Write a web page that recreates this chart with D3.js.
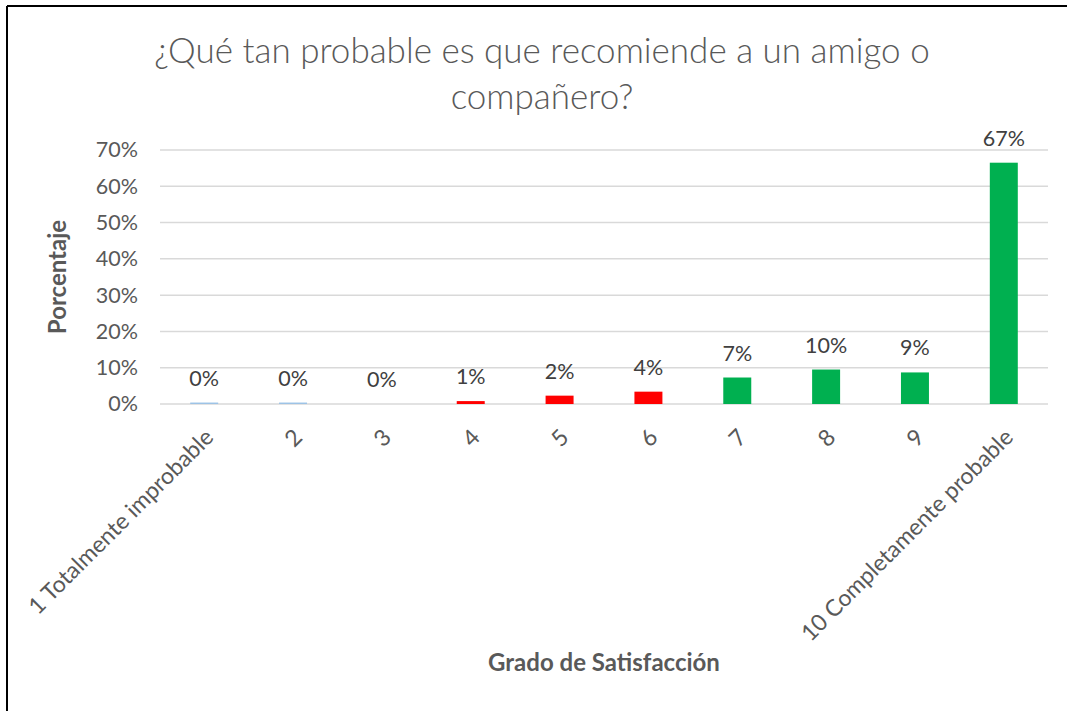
<!DOCTYPE html>
<html>
<head>
<meta charset="utf-8">
<script src="https://cdn.jsdelivr.net/npm/d3@7"></script>
<style>
  body { margin: 0; background: #fff; }
  svg { display: block; font-family: Lato, "Open Sans", sans-serif; }
</style>
</head>
<body>
<svg id="canvas" width="1067" height="711"></svg>
<script>
// data
const categories = ['1 Totalmente improbable', '2', '3', '4', '5', '6', '7', '8', '9', '10 Completamente probable'];
const values = [0.004, 0.004, 0, 0.008, 0.023, 0.034, 0.073, 0.095, 0.087, 0.665];
const labels = ['0%', '0%', '0%', '1%', '2%', '4%', '7%', '10%', '9%', '67%'];
const colors = ['#9dc3e6', '#9dc3e6', '#9dc3e6', '#ff0000', '#ff0000', '#ff0000', '#00b050', '#00b050', '#00b050', '#00b050'];
const yTicks = [0, 0.1, 0.2, 0.3, 0.4, 0.5, 0.6, 0.7];

const svg = d3.select('#canvas')

// frame (only top and left edges visible in the picture)
svg.append('line').attr('x1', 7).attr('x2', 1067).attr('y1', 6).attr('y2', 6)
   .attr('stroke', '#000').attr('stroke-width', 2)
svg.append('line').attr('x1', 7).attr('x2', 7).attr('y1', 6).attr('y2', 711)
   .attr('stroke', '#000').attr('stroke-width', 2)

const plotLeft = 160, plotRight = 1048, plotTop = 150, plotBottom = 404

let x = d3.scaleBand().domain(categories).range([plotLeft, plotRight]).paddingInner(0.685).paddingOuter(0.34)
let y = d3.scaleLinear().domain([0, 0.7]).range([plotBottom, plotTop])

// gridlines
svg.append('g')
   .selectAll('line')
   .data(yTicks)
   .enter()
   .append('line')
   .attr('x1', plotLeft).attr('x2', plotRight)
   .attr('y1', d => y(d)).attr('y2', d => y(d))
   .attr('stroke', '#d9d9d9').attr('stroke-width', 1.5)

// y axis labels
let yAxis = d3.axisLeft(y).tickValues(yTicks).tickFormat(d3.format('.0%')).tickSize(0).tickPadding(22)
let gy = svg.append('g').attr('transform', `translate(${plotLeft},0)`).call(yAxis)
gy.select('.domain').remove()
gy.selectAll('text').attr('font-size', 21.5).attr('fill', '#595959').attr('font-family', 'Lato, sans-serif')

// bars
svg.append('g')
   .selectAll('rect')
   .data(values)
   .enter()
   .append('rect')
   .attr('x', (d, i) => x(categories[i]))
   .attr('width', x.bandwidth())
   .attr('y', d => y(d))
   .attr('height', d => plotBottom - y(d))
   .attr('fill', (d, i) => colors[i])

// data labels
svg.append('g')
   .selectAll('text')
   .data(values)
   .enter()
   .append('text')
   .attr('x', (d, i) => x(categories[i]) + x.bandwidth() / 2)
   .attr('y', d => y(d) - 17)
   .attr('text-anchor', 'middle')
   .attr('font-size', 21.5)
   .attr('fill', '#404040')
   .text((d, i) => labels[i])

// x axis labels, rotated
let xAxis = d3.axisBottom(x).tickSize(0).tickPadding(0)
let gx = svg.append('g').attr('transform', `translate(0,${plotBottom})`).call(xAxis)
gx.select('.domain').remove()
gx.selectAll('text')
  .attr('font-size', 23).attr('fill', '#595959').attr('font-family', 'Lato, sans-serif')
  .attr('text-anchor', 'end')
  .attr('dy', '0.35em')
  .attr('transform', 'translate(5,29) rotate(-45)')

// title
svg.append('text').attr('x', 542).attr('y', 63).attr('text-anchor', 'middle')
   .attr('font-size', 35).attr('font-weight', 300).attr('fill', '#595959').text('¿Qué tan probable es que recomiende a un amigo o')
svg.append('text').attr('x', 542).attr('y', 109).attr('text-anchor', 'middle')
   .attr('font-size', 35).attr('font-weight', 300).attr('fill', '#595959').text('compañero?')

// axis titles
svg.append('text').attr('transform', 'translate(66,277) rotate(-90)').attr('text-anchor', 'middle')
   .attr('font-size', 24).attr('font-weight', 'bold').attr('fill', '#595959').text('Porcentaje')
svg.append('text').attr('x', 604).attr('y', 671).attr('text-anchor', 'middle')
   .attr('font-size', 24).attr('font-weight', 'bold').attr('fill', '#595959').text('Grado de Satisfacción')
</script>
</body>
</html>
